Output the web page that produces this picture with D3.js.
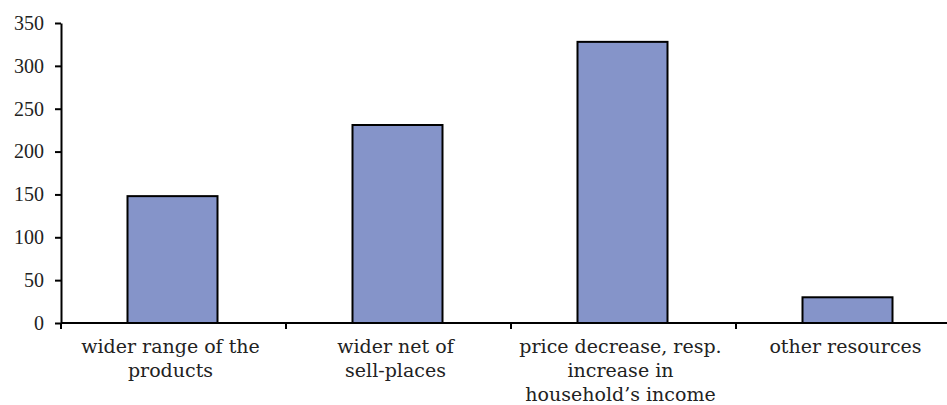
<!DOCTYPE html>
<html>
<head>
<meta charset="utf-8">
<script src="https://cdn.jsdelivr.net/npm/d3@7"></script>
<style>
  html, body { margin: 0; padding: 0; background: #fff; }
  svg { display: block; }
</style>
</head>
<body>
<svg id="chart" width="947" height="405"></svg>
<script>
// Reasons and the number of responses for each
const categories = [
  ["wider range of the", "products"],
  ["wider net of", "sell-places"],
  ["price decrease, resp.", "increase in", "household\u2019s income"],
  ["other resources"]
];
const values = [148, 231, 328, 30];
const yTicks = [0, 50, 100, 150, 200, 250, 300, 350];

const svg = d3.select("#chart");
const plot = { left: 61, top: 23, bottom: 323, right: 961 };

const x = d3.scaleBand()
  .domain(d3.range(categories.length))
  .range([plot.left, plot.right])
  .padding(0);

const y = d3.scaleLinear().domain([0, 350]).range([plot.bottom, plot.top]);

const barW = x.bandwidth() * 0.4;

// Bars
svg.append("g")
  .selectAll("rect")
  .data(values)
  .join("rect")
  .attr("x", (d, i) => x(i) + x.bandwidth() / 2 - barW / 2 - 1)
  .attr("y", d => y(d))
  .attr("width", barW)
  .attr("height", d => y(0) - y(d))
  .attr("fill", "#8594C9")
  .attr("stroke", "#000")
  .attr("stroke-width", 2);

// Y axis
const yAxis = svg.append("g")
  .attr("transform", `translate(${plot.left},0)`)
  .call(d3.axisLeft(y).tickValues(yTicks).tickSize(6).tickSizeOuter(0).tickPadding(11));
yAxis.select(".domain").attr("stroke", "#000").attr("stroke-width", 2);
yAxis.selectAll(".tick line").attr("stroke", "#000").attr("stroke-width", 2);
yAxis.selectAll(".tick text")
  .attr("font-family", "'Liberation Serif', serif")
  .attr("font-size", 20)
  .attr("fill", "#222");

// X axis: ticks at band boundaries
const xAxisG = svg.append("g");
xAxisG.append("line")
  .attr("x1", plot.left).attr("x2", plot.right)
  .attr("y1", plot.bottom).attr("y2", plot.bottom)
  .attr("stroke", "#000").attr("stroke-width", 2);
xAxisG.selectAll("line.tick")
  .data(d3.range(categories.length + 1))
  .join("line")
  .attr("class", "tick")
  .attr("x1", i => i < categories.length ? x(i) : plot.right)
  .attr("x2", i => i < categories.length ? x(i) : plot.right)
  .attr("y1", plot.bottom).attr("y2", plot.bottom + 6)
  .attr("stroke", "#000").attr("stroke-width", 2);

// Category labels
const labels = xAxisG.selectAll("text.cat")
  .data(categories)
  .join("text")
  .attr("class", "cat")
  .attr("text-anchor", "middle")
  .attr("font-family", "'DejaVu Serif', serif")
  .attr("font-size", 19)
  .attr("fill", "#222")
  .attr("transform", (d, i) => `translate(${x(i) + x.bandwidth() / 2 - 3},${plot.bottom + 30})`);
labels.selectAll("tspan")
  .data(d => d)
  .join("tspan")
  .attr("x", 0)
  .attr("dy", (d, j) => j === 0 ? 0 : 24)
  .text(d => d);
</script>
</body>
</html>
